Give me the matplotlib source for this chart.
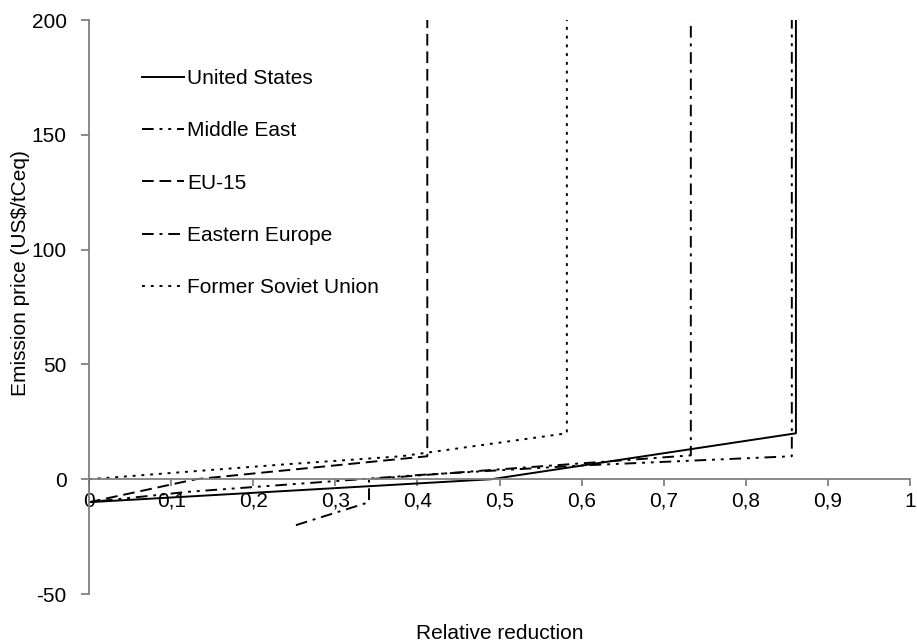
import matplotlib
matplotlib.use('Agg')
import matplotlib.pyplot as plt
from matplotlib.ticker import FuncFormatter

plt.rcParams['font.family'] = ['Liberation Sans', 'DejaVu Sans']
plt.rcParams['axes.unicode_minus'] = False

# supply curves: relative reduction (x) vs emission price (y)
us_x = [0, 0.49, 0.861, 0.861]
us_y = [-10, 0, 20, 200]

me_x = [0, 0, 0.12, 0.4, 0.6, 0.856, 0.856]
me_y = [0, -10, -5.5, 1.8, 6, 10, 200]

eu_x = [0, 0.13, 0.412, 0.412]
eu_y = [-10, 0, 10, 200]

ee_x = [0.252, 0.341, 0.341, 0.5, 0.733, 0.733]
ee_y = [-20, -10, 0, 4.3, 10.4, 200]

fsu_x = [0, 0.232, 0.38, 0.582, 0.582]
fsu_y = [0, 6.3, 10, 20, 200]

labels = ['United States', 'Middle East', 'EU-15', 'Eastern Europe', 'Former Soviet Union']
x_ticks = [0, 0.1, 0.2, 0.3, 0.4, 0.5, 0.6, 0.7, 0.8, 0.9, 1]
y_ticks = [-50, 0, 50, 100, 150, 200]

fig = plt.figure(figsize=(9.17, 6.44), dpi=100)
ax = fig.add_axes([0.0971, 0.0776, 0.8953, 0.8913])

lw = 1.4
ax.plot(us_x, us_y, color='black', lw=lw, linestyle='-', label=labels[0])
ax.plot(me_x, me_y, color='black', lw=lw, linestyle=(0, (6, 3, 1.5, 3, 1.5, 3)), label=labels[1])
ax.plot(eu_x, eu_y, color='black', lw=lw, linestyle=(0, (6, 3)), label=labels[2])
ax.plot(ee_x, ee_y, color='black', lw=lw, linestyle=(0, (6, 3, 1.5, 3)), label=labels[3])
ax.plot(fsu_x, fsu_y, color='black', lw=lw, linestyle=(0, (1.5, 3)), label=labels[4])

ax.set_xlim(0, 1)
ax.set_ylim(-50, 200)

ax.spines['top'].set_visible(False)
ax.spines['right'].set_visible(False)
ax.spines['bottom'].set_position(('data', 0))
for s in ('left', 'bottom'):
    ax.spines[s].set_color('#808080')
    ax.spines[s].set_linewidth(1.3)

ax.set_xticks(x_ticks)
ax.xaxis.set_major_formatter(FuncFormatter(lambda v, p: ('%g' % v).replace('.', ',')))
ax.set_yticks(y_ticks)
ax.tick_params(axis='x', direction='out', length=5, color='#808080', width=1.3,
               labelsize=15, pad=4)
ax.tick_params(axis='y', direction='out', length=6, color='#808080', width=1.3,
               labelsize=15, pad=10)

ax.set_xlabel('Relative reduction', fontsize=15)
ax.xaxis.set_label_coords(0.5, -0.052)
ax.set_ylabel(r'Emission price (US\$/tCeq)', fontsize=15)
ax.yaxis.set_label_coords(-0.072, 0.56)

ax.legend(loc='upper left', bbox_to_anchor=(142 / 917, 1 - 69 / 644),
          bbox_transform=fig.transFigure, frameon=False, fontsize=15,
          handlelength=2.0, handletextpad=0.15, labelspacing=1.6,
          borderpad=0, borderaxespad=0)

plt.savefig('out.png', dpi=100)
